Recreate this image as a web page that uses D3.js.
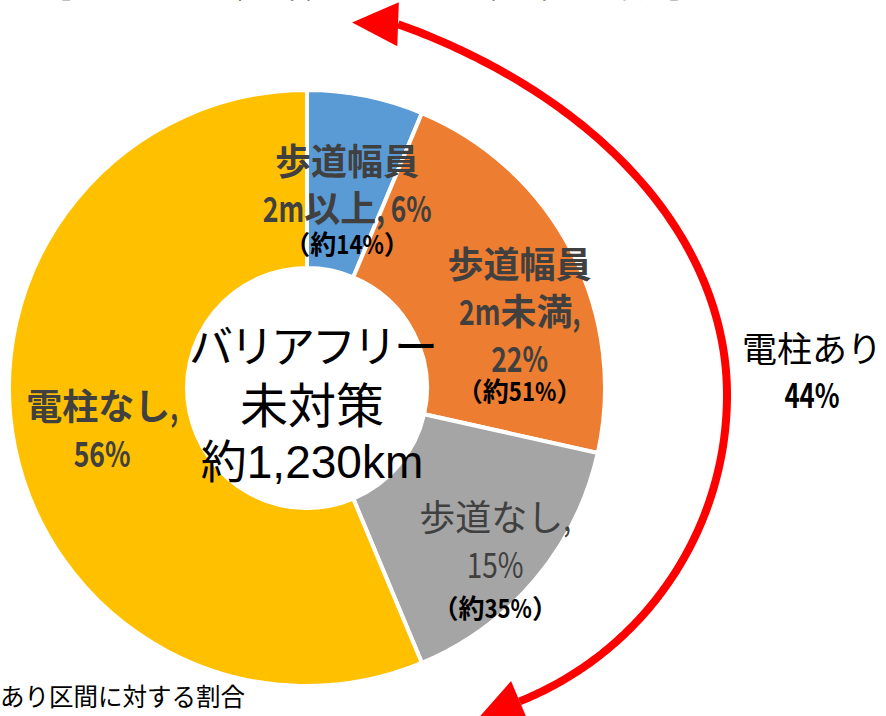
<!DOCTYPE html>
<html>
<head>
<meta charset="utf-8">
<script src="https://cdn.jsdelivr.net/npm/d3@7"></script>
<style>
  html, body { margin: 0; padding: 0; background: #fff; overflow: hidden; }
</style>
</head>
<body>
<div id="chart"></div>
<script>
// slices, clockwise from 12 o'clock (share of all uncleared km)
var categories = ["歩道幅員2m以上", "歩道幅員2m未満", "歩道なし", "電柱なし"];
var shares = [6.3, 22.2, 15.2, 56.3];
var colors = ["#5B9BD5", "#ED7D31", "#A5A5A5", "#FFC000"];
var labelLines = [["歩道幅員", "2m以上, 6%"], ["歩道幅員", "2m未満,", "22%"], ["歩道なし,", "15%"], ["電柱なし,", "56%"]];
var subLabels = ["（約14%）", "（約51%）", "（約35%）", null];
var centerLines = ["バリアフリー", "未対策", "約1,230km"];
var poleLines = ["電柱あり", "44%"];
var noteText = "※電柱あり区間に対する割合";
var titleText = "【バリアフリー未対策区間における電柱・歩道の状況】";

var w = 886,
    h = 716,
    cx = 307,
    cy = 388,
    rOuter = 298,
    rInner = 120;

var cjk = '"Noto Sans CJK JP", sans-serif';

var svg = d3.select("#chart").append("svg")
  .attr("width", w)
  .attr("height", h);

// text with narrow latin runs (the original uses a condensed gothic for digits)
function richText(parent, str, x, y, size, latinSize, squeeze) {
  var t = parent.append("text")
    .attr("x", x)
    .attr("y", y)
    .attr("text-anchor", "middle")
    .style("font-family", cjk)
    .style("font-size", size + "px");
  (str.match(/[\x00-\x7F]+|[^\x00-\x7F]+/g) || []).forEach(run => {
    var ts = t.append("tspan").text(run);
    if (/^[\x00-\x7F]+$/.test(run)) {
      ts.style("font-size", latinSize + "px");
      var len = ts.node().getComputedTextLength();
      ts.attr("textLength", len * squeeze).attr("lengthAdjust", "spacingAndGlyphs");
    }
  });
  return t;
}

// title line, cut off by the top edge in the original
svg.append("text")
  .attr("x", 45)
  .attr("y", -2)
  .style("font-family", cjk)
  .style("font-size", "26px")
  .text(titleText);

var g = svg.append("g")
  .attr("transform", `translate(${cx},${cy})`);

var pie = d3.pie().sort(null).value(d => d);
var arc = d3.arc().innerRadius(rInner).outerRadius(rOuter);
var arcs = pie(shares);

g.selectAll("path.slice")
  .data(arcs)
  .enter().append("path")
  .attr("class", "slice")
  .attr("d", arc)
  .attr("fill", (d, i) => colors[i])
  .attr("stroke", "#fff")
  .attr("stroke-width", 4);

// label block placement relative to slice centroid
var labelOffsets = [[-1, -8], [27, -14], [28, 9], [0, -9]];
var lineGap = 47;
var subGap = [32, 29, 40, 0];
var labelWeight = ["bold", "bold", "normal", "bold"];

arcs.forEach((d, i) => {
  var c = arc.centroid(d);
  var x = c[0] + labelOffsets[i][0],
      y0 = c[1] + labelOffsets[i][1];
  var lab = g.append("g").attr("class", "label");
  labelLines[i].forEach((t, j) => {
    richText(lab, t, x, y0 + j * lineGap, 36, 35, 0.8)
      .attr("fill", "#404040")
      .style("font-weight", labelWeight[i]);
  });
  if (subLabels[i]) {
    richText(lab, subLabels[i], x, y0 + (labelLines[i].length - 1) * lineGap + subGap[i], 26, 26, 0.9)
      .attr("fill", "#000")
      .style("font-weight", "bold");
  }
});

// centre text
var centerY = [-25, 35, 90];
var centerSize = [44, 48, 46];
centerLines.forEach((t, j) => {
  g.append("text")
    .attr("x", 5)
    .attr("y", centerY[j])
    .attr("text-anchor", "middle")
    .attr("fill", "#000")
    .style("font-family", '"Liberation Sans", Arial, "Noto Sans CJK JP", sans-serif')
    .style("font-size", centerSize[j] + "px")
    .style("letter-spacing", j == 0 ? "-3px" : "0px")
    .text(t);
});

// red double arrow: upper half elliptical, lower half circular, joined at the right
var ex = 107, ey = 395, ea = 620, eb = 420;
var lx = 397, lr = 330;
var tTop = -62 * Math.PI / 180, tBot = 68.4 * Math.PI / 180;
var pts = d3.range(tTop, 0.0001, 0.01).map(t => [ex + ea * Math.cos(t), ey + eb * Math.sin(t)])
  .concat(d3.range(0, tBot + 0.0001, 0.01).map(t => [lx + lr * Math.cos(t), ey + lr * Math.sin(t)]));

svg.append("path")
  .attr("d", d3.line()(pts))
  .attr("fill", "none")
  .attr("stroke", "#FF0000")
  .attr("stroke-width", 8);

function head(p, deg) {
  var a = deg * Math.PI / 180, len = 46, hw = 22;
  var ux = Math.cos(a), uy = Math.sin(a);
  var tip = [p[0] + ux * len, p[1] + uy * len],
      b1 = [p[0] - uy * hw, p[1] + ux * hw],
      b2 = [p[0] + uy * hw, p[1] - ux * hw];
  svg.append("path")
    .attr("d", "M" + [tip, b1, b2].join("L") + "Z")
    .attr("fill", "#FF0000");
}
head(pts[0], 182);
head(pts[pts.length - 1], 157);

// 電柱あり label to the right of the arrow
var poleX = ex + ea + 85;
var poleY = [362, 408];
svg.append("text")
  .attr("x", poleX)
  .attr("y", poleY[0])
  .attr("text-anchor", "middle")
  .attr("fill", "#000")
  .style("font-family", cjk)
  .style("font-size", "35px")
  .text(poleLines[0]);
richText(svg, poleLines[1], poleX, poleY[1], 34, 34, 0.8)
  .attr("fill", "#000")
  .style("font-weight", "bold");

// footnote, partly cut by the left edge
svg.append("text")
  .attr("x", 245)
  .attr("y", 706)
  .attr("text-anchor", "end")
  .attr("fill", "#000")
  .style("font-family", cjk)
  .style("font-size", "24.5px")
  .text(noteText);
</script>
</body>
</html>
